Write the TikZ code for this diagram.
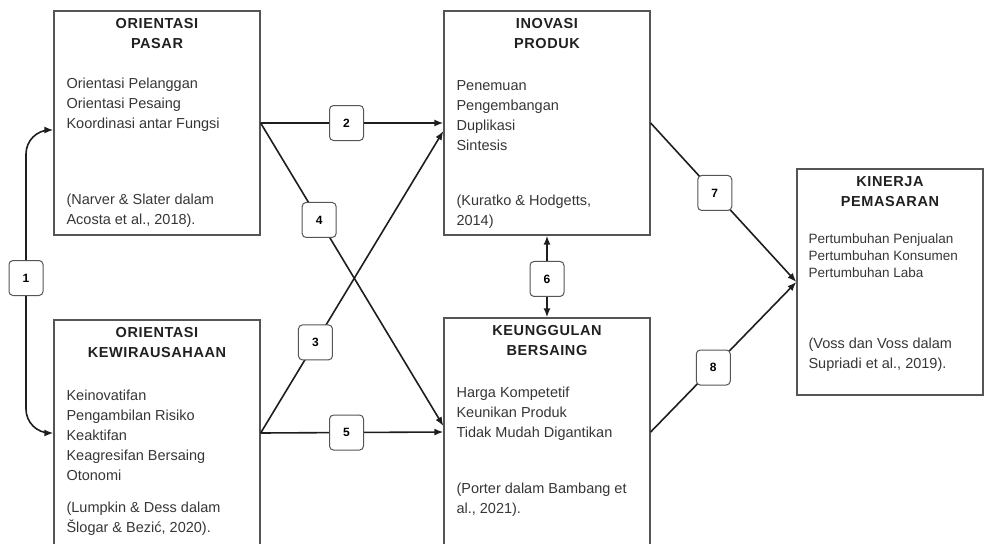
\documentclass[tikz,border=0pt]{standalone}
\usepackage{fontspec}
\setmainfont{Liberation Sans}
\newfontfamily\headfont{Liberation Sans}[LetterSpace=4]
\usetikzlibrary{arrows.meta,positioning,calc}
\definecolor{frame}{HTML}{555555}
\definecolor{ink}{HTML}{363636}
\definecolor{wire}{HTML}{1E1E1E}
\tikzset{
  varbox/.style={draw=frame,line width=1.3pt,minimum width=206pt,minimum height=224pt,
                 inner sep=0pt},
  head/.style  ={font=\headfont\bfseries\fontsize{14.5}{20}\selectfont,text=ink!60!black,
                 align=center,inner sep=0pt},
  items/.style ={font=\fontsize{14.5}{20}\selectfont,text=ink,align=left,inner sep=0pt},
  small/.style ={font=\fontsize{13.5}{17}\selectfont,text=ink,align=left,inner sep=0pt},
  tag/.style   ={draw=frame,line width=1pt,rounded corners=4pt,fill=white,minimum width=34pt,
                 minimum height=35pt,inner sep=0pt,font=\bfseries\fontsize{12}{12}\selectfont},
  flow/.style  ={-{Latex[length=9pt,width=7pt]},line width=1.6pt,draw=wire},
  twoway/.style={{Latex[length=9pt,width=7pt]}-{Latex[length=9pt,width=7pt]},line width=1.6pt,
                 draw=wire}
}
\begin{document}
\begin{tikzpicture}[x=1pt,y=-1pt]
  \useasboundingbox (0,0) rectangle (984,543);
  \clip (0,0) rectangle (984,543);
  % variable boxes
  \node[varbox] (op) at (157,123) {};
  \node[varbox,minimum height=226pt] (ok) at (157,433) {};
  \node[varbox] (ip) at (547,123) {};
  \node[varbox,minimum height=228pt] (kb) at (547,432) {};
  \node[varbox,minimum width=186pt,minimum height=226pt] (kp) at (890,282) {};
  % orientasi pasar
  \node[head,below=8pt of op.north] (opT) {ORIENTASI\\PASAR};
  \node[items,below right=67pt and 13pt of op.north west] (opL)
       {Orientasi Pelanggan\\Orientasi Pesaing\\Koordinasi antar Fungsi};
  \node[items,below right=183pt and 13pt of op.north west] (opS)
       {(Narver \& Slater dalam\\Acosta et al., 2018).};
  % orientasi kewirausahaan
  \node[head,below=8pt of ok.north] (okT) {ORIENTASI\\KEWIRAUSAHAAN};
  \node[items,below right=70pt and 13pt of ok.north west] (okL)
       {Keinovatifan\\Pengambilan Risiko\\Keaktifan\\Keagresifan Bersaing\\Otonomi};
  \node[items,below right=182pt and 13pt of ok.north west] (okS)
       {(Lumpkin \& Dess dalam\\Šlogar \& Bezić, 2020).};
  % inovasi produk
  \node[head,below=8pt of ip.north] (ipT) {INOVASI\\PRODUK};
  \node[items,below right=70pt and 13pt of ip.north west] (ipL)
       {Penemuan\\Pengembangan\\Duplikasi\\Sintesis};
  \node[items,below right=184pt and 13pt of ip.north west] (ipS)
       {(Kuratko \& Hodgetts,\\2014)};
  % keunggulan bersaing
  \node[head,below=8pt of kb.north] (kbT) {KEUNGGULAN\\BERSAING};
  \node[items,below right=69pt and 13pt of kb.north west] (kbL)
       {Harga Kompetetif\\Keunikan Produk\\Tidak Mudah Digantikan};
  \node[items,below right=165pt and 13pt of kb.north west] (kbS)
       {(Porter dalam Bambang et\\al., 2021).};
  % kinerja pemasaran
  \node[head,below=8pt of kp.north] (kpT) {KINERJA\\PEMASARAN};
  \node[small,below right=65pt and 12pt of kp.north west] (kpL)
       {Pertumbuhan Penjualan\\Pertumbuhan Konsumen\\Pertumbuhan Laba};
  \node[items,below right=169pt and 12pt of kp.north west] (kpS)
       {(Voss dan Voss dalam\\Supriadi et al., 2019).};
  % hubungan
  \node[tag] (t1) at (26,278) {1};
  \draw[flow,rounded corners=24pt] (t1.north) |- ($(op.west)+(0,7)$);
  \draw[flow,rounded corners=24pt] (t1.south) |- (ok.west);
  \draw[flow] (op.east) -- node[tag,pos=.47] (t2) {2} (ip.west);
  \draw[flow] (ok.east) -- node[tag,pos=.30] (t3) {3} ($(ip.west)+(0,8)$);
  \draw[flow] (op.east) -- node[tag,pos=.32] (t4) {4} ($(kb.west)+(0,-6)$);
  \draw[flow] (ok.east) -- node[tag,pos=.47] (t5) {5} (kb.west);
  \draw[twoway] (ip.south) -- node[tag,pos=.53] (t6) {6} (kb.north);
  \draw[flow] (ip.east) -- node[tag,pos=.44] (t7) {7} (kp.west);
  \draw[flow] (kb.east) -- node[tag,pos=.43] (t8) {8} (kp.west);
\end{tikzpicture}
\end{document}
